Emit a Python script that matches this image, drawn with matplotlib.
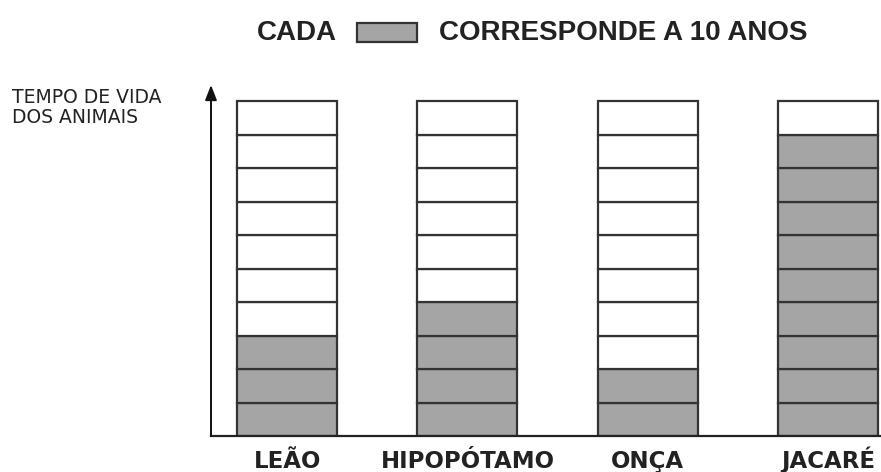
import matplotlib.pyplot as plt
from matplotlib.patches import Rectangle

# each cell = 10 years, 10 cells per column
animais = ['LEÃO', 'HIPOPÓTAMO', 'ONÇA', 'JACARÉ']
celulas_cheias = [3, 4, 2, 9]
total_celulas = 10
anos_por_celula = 10

cinza = '#a5a5a5'
borda = '#333333'

plt.rcParams['font.family'] = ['Liberation Sans', 'DejaVu Sans']

W, H = 881, 472
fig = plt.figure(figsize=(W / 100, H / 100), dpi=100)
ax = fig.add_axes([211 / W, 36 / H, 670 / W, 351 / H])

largura = 100 / 180
for i, n in enumerate(celulas_cheias):
    for k in range(total_celulas):
        cor = cinza if k < n else 'white'
        ax.bar(i, anos_por_celula, bottom=k * anos_por_celula, width=largura,
               color=cor, edgecolor=borda, linewidth=1.6)

ax.set_xlim(-0.422, 3.294)
ax.set_ylim(0, 104.8)
for s in ax.spines.values():
    s.set_visible(False)
ax.set_xticks([])
ax.set_yticks([])

# axes: baseline and vertical arrow
ax.plot([-0.422, 3.294], [0, 0], color='#222222', lw=1.6, clip_on=False)
ax.annotate('', xy=(-0.422, 104.8), xytext=(-0.422, 0),
            arrowprops=dict(arrowstyle='-|>,head_length=0.9,head_width=0.35',
                            color='#111111', lw=1.4, shrinkA=0, shrinkB=0),
            annotation_clip=False)

for i, nome in enumerate(animais):
    ax.text(i, -9.6, nome, ha='center', va='baseline', fontsize=16.5,
            fontweight='bold', color='#222222', family='DejaVu Sans')

fig.text(12 / W, 1 - 103 / H, 'TEMPO DE VIDA', ha='left', va='baseline',
         fontsize=13.5, color='#222222', family='DejaVu Sans')
fig.text(12 / W, 1 - 123 / H, 'DOS ANIMAIS', ha='left', va='baseline',
         fontsize=13.5, color='#222222', family='DejaVu Sans')

# title with legend swatch
fig.text(257 / W, 1 - 40 / H, 'CADA', ha='left', va='baseline',
         fontsize=20, fontweight='bold', color='#222222')
fig.patches.append(Rectangle((357 / W, 1 - 42 / H), 60 / W, 19 / H,
                             transform=fig.transFigure, facecolor=cinza,
                             edgecolor=borda, linewidth=1.6))
fig.text(439 / W, 1 - 40 / H, 'CORRESPONDE A 10 ANOS', ha='left',
         va='baseline', fontsize=20, fontweight='bold', color='#222222')

fig.savefig('out.png', dpi=100)
